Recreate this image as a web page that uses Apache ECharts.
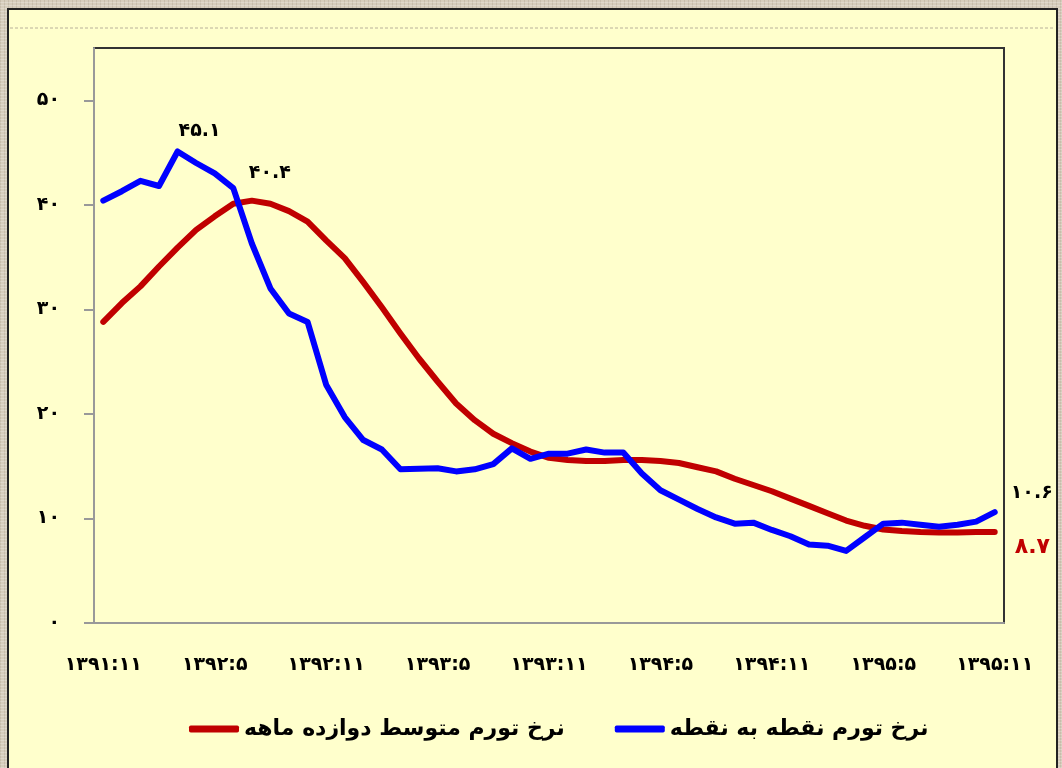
<!DOCTYPE html>
<html>
<head>
<meta charset="utf-8">
<script src="https://cdn.jsdelivr.net/npm/echarts@6/dist/echarts.min.js"></script>
<style>
  html, body { margin: 0; padding: 0; }
  body {
    width: 1062px; height: 768px; overflow: hidden;
    background-color: #d6cdbc;
    background-image:
      repeating-linear-gradient(0deg, rgba(255,255,255,0.22) 0 1px, transparent 1px 3px),
      repeating-linear-gradient(90deg, rgba(110,95,70,0.14) 0 1px, transparent 1px 4px);
  }
  #chart { width: 1062px; height: 768px; }
</style>
</head>
<body>
<div id="chart"></div>
<script>
// months 1391:11 .. 1395:11
const months = [
  '1391:11', '1391:12',
  '1392:1', '1392:2', '1392:3', '1392:4', '1392:5', '1392:6', '1392:7', '1392:8', '1392:9', '1392:10', '1392:11', '1392:12',
  '1393:1', '1393:2', '1393:3', '1393:4', '1393:5', '1393:6', '1393:7', '1393:8', '1393:9', '1393:10', '1393:11', '1393:12',
  '1394:1', '1394:2', '1394:3', '1394:4', '1394:5', '1394:6', '1394:7', '1394:8', '1394:9', '1394:10', '1394:11', '1394:12',
  '1395:1', '1395:2', '1395:3', '1395:4', '1395:5', '1395:6', '1395:7', '1395:8', '1395:9', '1395:10', '1395:11'
];

// نرخ تورم متوسط دوازده ماهه
const avg12 = [
  28.8, 30.6, 32.2, 34.1, 35.9, 37.6, 38.9, 40.1, 40.4, 40.1, 39.4, 38.4,
  36.6, 34.9, 32.6, 30.2, 27.7, 25.3, 23.1, 21.0, 19.4, 18.1, 17.2, 16.4,
  15.8, 15.6, 15.5, 15.5, 15.6, 15.6, 15.5, 15.3, 14.9, 14.5, 13.8, 13.2,
  12.6, 11.9, 11.2, 10.5, 9.8, 9.3, 8.95, 8.8, 8.7, 8.65, 8.65, 8.7, 8.7
];

// نرخ تورم نقطه به نقطه
const pointToPoint = [
  40.4, 41.3, 42.3, 41.8, 45.1, 44.0, 43.0, 41.6, 36.3, 32.0, 29.6, 28.8,
  22.8, 19.7, 17.5, 16.6, 14.7, 14.75, 14.8, 14.5, 14.7, 15.2, 16.7, 15.7,
  16.2, 16.2, 16.6, 16.3, 16.3, 14.3, 12.7, 11.8, 10.9, 10.1, 9.5, 9.6,
  8.9, 8.3, 7.5, 7.4, 6.9, 8.2, 9.5, 9.6, 9.4, 9.2, 9.4, 9.7, 10.6
];

const yTicks = [0, 10, 20, 30, 40, 50];

const nameAvg = 'نرخ تورم متوسط دوازده ماهه';
const namePtp = 'نرخ تورم نقطه به نقطه';

const faDigits = ['۰', '۱', '۲', '۳', '۴', '۵', '۶', '۷', '۸', '۹'];
const toFa = (s) => String(s).replace(/[0-9]/g, d => faDigits[+d]);

const FONT = 'DejaVu Sans';

// labelled points: peaks and last values
const avgData = avg12.map((v, i) => {
  if (i === 8) {
    return { value: v, label: { show: true, position: 'top', offset: [18, -12], color: '#000', fontSize: 19 } };
  }
  if (i === avg12.length - 1) {
    return { value: v, label: { show: true, position: 'right', offset: [14, 15], color: '#C00000', fontSize: 22 } };
  }
  return v;
});
const ptpData = pointToPoint.map((v, i) => {
  if (i === 4) {
    return { value: v, label: { show: true, position: 'top', offset: [22, -5], color: '#000', fontSize: 19 } };
  }
  if (i === pointToPoint.length - 1) {
    return { value: v, label: { show: true, position: 'right', offset: [10, -19], color: '#000', fontSize: 19 } };
  }
  return v;
});

const chart = echarts.init(document.getElementById('chart'));

const option = {
  backgroundColor: 'transparent',
  animation: false,
  textStyle: { fontFamily: FONT },
  graphic: [
    {
      type: 'rect', z: -10, silent: true,
      shape: { x: 8, y: 9, width: 1049, height: 780 },
      style: { fill: '#FFFFCC', stroke: '#222', lineWidth: 2 }
    },
    {
      type: 'line', z: -9, silent: true,
      shape: { x1: 10, y1: 28, x2: 1055, y2: 28 },
      style: { stroke: '#b8b09a', lineWidth: 1, lineDash: [3, 2] }
    }
  ],
  grid: {
    left: 94, right: 58, top: 48, bottom: 145,
    show: true, backgroundColor: 'transparent',
    borderColor: '#333', borderWidth: 2
  },
  legend: {
    data: [nameAvg, namePtp],
    left: 184, top: 713,
    icon: 'roundRect',
    itemWidth: 50, itemHeight: 7, itemGap: 50,
    textStyle: { fontFamily: FONT, fontWeight: 'bold', fontSize: 22, color: '#000' }
  },
  xAxis: {
    type: 'category',
    data: months,
    boundaryGap: true,
    axisLine: { lineStyle: { color: '#999', width: 2 } },
    axisTick: { interval: 5, length: 9, lineStyle: { color: '#999', width: 2 } },
    axisLabel: {
      interval: 5, margin: 33, color: '#000',
      fontFamily: FONT, fontWeight: 'bold', fontSize: 19,
      formatter: (v) => toFa(v)
    },
    splitLine: { show: false }
  },
  yAxis: {
    type: 'value',
    min: 0, max: 55, interval: 10,
    axisLine: { show: true, lineStyle: { color: '#999', width: 2 } },
    axisTick: { show: true, length: 10, lineStyle: { color: '#999', width: 2 } },
    axisLabel: {
      margin: 34, color: '#000', showMaxLabel: false,
      fontFamily: FONT, fontWeight: 'bold', fontSize: 19,
      formatter: (v) => yTicks.indexOf(v) >= 0 ? toFa(v) : ''
    },
    splitLine: { show: false }
  },
  series: [
    {
      name: nameAvg,
      type: 'line',
      data: avgData,
      symbol: 'circle',
      symbolSize: 2,
      showSymbol: true,
      showAllSymbol: true,
      color: '#C00000',
      itemStyle: { color: '#C00000' },
      lineStyle: { width: 6, color: '#C00000', cap: 'round', join: 'round' },
      label: {
        fontFamily: FONT, fontWeight: 'bold',
        formatter: (p) => toFa(p.value)
      },
      z: 2
    },
    {
      name: namePtp,
      type: 'line',
      data: ptpData,
      symbol: 'circle',
      symbolSize: 2,
      showSymbol: true,
      showAllSymbol: true,
      color: '#0000FF',
      itemStyle: { color: '#0000FF' },
      lineStyle: { width: 6, color: '#0000FF', cap: 'round', join: 'round' },
      label: {
        fontFamily: FONT, fontWeight: 'bold',
        formatter: (p) => toFa(p.value)
      },
      z: 3
    }
  ]
};

chart.setOption(option);
</script>
</body>
</html>
